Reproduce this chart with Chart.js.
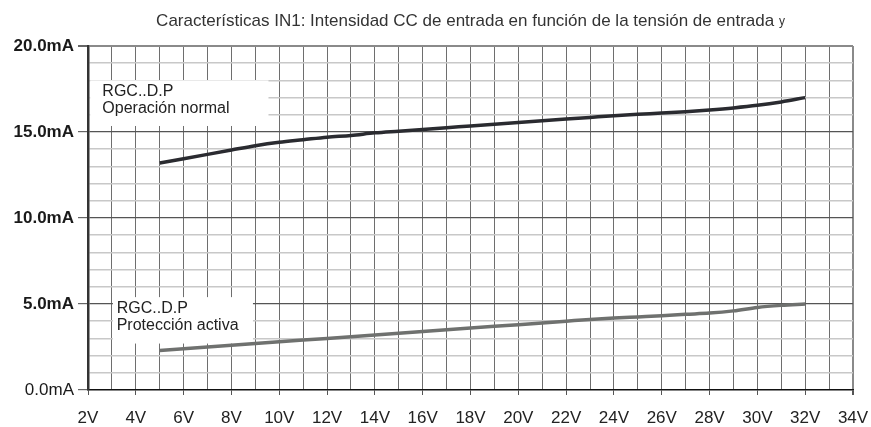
<!DOCTYPE html>
<html>
<head>
<meta charset="utf-8">
<script src="https://cdn.jsdelivr.net/npm/chart.js@4.4.1/dist/chart.umd.min.js"></script>
<style>
  html, body { margin: 0; padding: 0; background: #ffffff; }
  #wrap { width: 871px; height: 427px; position: relative; }
</style>
</head>
<body>
<div id="wrap"><canvas id="c" width="871" height="427"></canvas></div>
<script>
// ---- data ----
const voltages = [5, 6, 7, 8, 9, 10, 11, 12, 13, 14, 15, 16, 17, 18, 19, 20, 21, 22, 23, 24, 25, 26, 27, 28, 29, 30, 31, 32];
const normalCurrent = [13.2, 13.45, 13.7, 13.95, 14.2, 14.4, 14.55, 14.7, 14.8, 14.95, 15.05, 15.15, 15.25, 15.35, 15.45, 15.55, 15.65, 15.75, 15.85, 15.95, 16.03, 16.1, 16.18, 16.28, 16.4, 16.55, 16.75, 17.0];
const protectionCurrent = [2.3, 2.4, 2.5, 2.6, 2.7, 2.8, 2.9, 3.0, 3.1, 3.2, 3.3, 3.4, 3.5, 3.6, 3.7, 3.8, 3.9, 4.0, 4.1, 4.18, 4.25, 4.32, 4.4, 4.47, 4.6, 4.8, 4.92, 5.0];
const xTickValues = [2, 4, 6, 8, 10, 12, 14, 16, 18, 20, 22, 24, 26, 28, 30, 32, 34];
const xTickLabels = ['2V', '4V', '6V', '8V', '10V', '12V', '14V', '16V', '18V', '20V', '22V', '24V', '26V', '28V', '30V', '32V', '34V'];
const yTickValues = [0, 5, 10, 15, 20];
const yTickLabels = ['0.0mA', '5.0mA', '10.0mA', '15.0mA', '20.0mA'];
const titleText = 'Características IN1: Intensidad CC de entrada en función de la tensión de entrada';
const titleSuffix = 'y';
const normalLabel = ['RGC..D.P', 'Operación normal'];
const protectionLabel = ['RGC..D.P', 'Protección activa'];

const FONT = '"Liberation Sans", Arial, Helvetica, sans-serif';

const normalData = voltages.map((v, i) => ({ x: v, y: normalCurrent[i] }));
const protectionData = voltages.map((v, i) => ({ x: v, y: protectionCurrent[i] }));

// label boxes anchored in data coordinates
const labelBoxes = [
  { lines: normalLabel, x0: 2.05, x1: 9.55, y0: 18.0, y1: 15.35, textX: 2.6 },
  { lines: protectionLabel, x0: 3.0, x1: 8.9, y0: 5.4, y1: 2.7, textX: 3.2 }
];

const boxPlugin = {
  id: 'labelBoxes',
  beforeDatasetsDraw(chart) {
    const { ctx, scales: { x, y } } = chart;
    ctx.save();
    labelBoxes.forEach(b => {
      const l = x.getPixelForValue(b.x0) + 1;
      const r = x.getPixelForValue(b.x1);
      const t = y.getPixelForValue(b.y0);
      const bt = y.getPixelForValue(b.y1);
      ctx.fillStyle = '#ffffff';
      ctx.fillRect(l, t, r - l, bt - t);
      ctx.fillStyle = '#222222';
      ctx.font = '16px ' + FONT;
      ctx.textAlign = 'left';
      ctx.textBaseline = 'alphabetic';
      const tx = x.getPixelForValue(b.textX);
      ctx.fillText(b.lines[0], tx, t + 16);
      ctx.fillText(b.lines[1], tx, t + 33);
    });
    ctx.restore();
  }
};

const titlePlugin = {
  id: 'customTitle',
  afterDraw(chart) {
    const { ctx, chartArea } = chart;
    ctx.save();
    ctx.font = '17px ' + FONT;
    const w1 = ctx.measureText(titleText + ' ').width;
    ctx.font = '12px ' + FONT;
    const w2 = ctx.measureText(titleSuffix).width;
    const cx = (chartArea.left + chartArea.right) / 2;
    const sx = cx - (w1 + w2) / 2;
    ctx.fillStyle = '#333333';
    ctx.textAlign = 'left';
    ctx.textBaseline = 'alphabetic';
    ctx.font = '17px ' + FONT;
    ctx.fillText(titleText + ' ', sx, 26);
    ctx.font = '12px ' + FONT;
    ctx.fillText(titleSuffix, sx + w1, 25);
    ctx.restore();
  }
};

new Chart(document.getElementById('c'), {
  type: 'line',
  data: {
    datasets: [
      {
        label: normalLabel.join(' '),
        data: normalData,
        borderColor: '#2a2b30',
        borderWidth: 3.5,
        pointRadius: 0,
        tension: 0.4,
        cubicInterpolationMode: 'monotone',
        fill: false
      },
      {
        label: protectionLabel.join(' '),
        data: protectionData,
        borderColor: '#6f716f',
        borderWidth: 3.5,
        pointRadius: 0,
        tension: 0.4,
        cubicInterpolationMode: 'monotone',
        fill: false
      }
    ]
  },
  options: {
    responsive: false,
    animation: false,
    layout: { padding: { top: 46, right: 18, left: 0, bottom: 0 } },
    plugins: {
      legend: { display: false },
      title: { display: false },
      tooltip: { enabled: false }
    },
    scales: {
      x: {
        type: 'linear',
        min: 2,
        max: 34,
        afterFit(scale) {
          scale.height = 37;
          scale.paddingLeft = 0;
          scale.paddingRight = 0;
        },
        afterBuildTicks(scale) {
          const t = [];
          for (let v = 2; v <= 34; v++) t.push({ value: v });
          scale.ticks = t;
        },
        ticks: {
          autoSkip: false,
          maxRotation: 0,
          padding: 13,
          color: '#222222',
          font: { family: FONT, size: 17 },
          callback(v) {
            const i = xTickValues.indexOf(v);
            return i >= 0 ? xTickLabels[i] : '';
          }
        },
        grid: {
          drawOnChartArea: true,
          drawTicks: true,
          tickLength: 5,
          lineWidth(ctx) { return ctx.tick && ctx.tick.value === 34 ? 2 : 1; },
          color(ctx) {
            const v = ctx.tick ? ctx.tick.value : 0;
            if (v === 2) return 'rgba(0,0,0,0)';
            if (v === 34) return '#8a8a8a';
            return '#6e6e6e';
          },
          tickColor(ctx) {
            const v = ctx.tick ? ctx.tick.value : 0;
            return v % 2 === 0 ? '#555555' : 'rgba(0,0,0,0)';
          }
        },
        border: { display: true, color: '#111111', width: 1.5 }
      },
      y: {
        type: 'linear',
        min: 0,
        max: 20,
        afterFit(scale) {
          scale.width = 88;
          scale.paddingTop = 0;
          scale.paddingBottom = 0;
        },
        afterBuildTicks(scale) {
          const t = [];
          for (let v = 0; v <= 20; v++) t.push({ value: v });
          scale.ticks = t;
        },
        ticks: {
          autoSkip: false,
          padding: 4,
          color: '#1a1a1a',
          font(ctx) {
            const v = ctx.tick ? ctx.tick.value : 0;
            return { family: FONT, size: 17, weight: v === 0 ? 'normal' : 'bold' };
          },
          callback(v) {
            const i = yTickValues.indexOf(v);
            return i >= 0 ? yTickLabels[i] : '';
          }
        },
        grid: {
          drawOnChartArea: true,
          drawTicks: true,
          tickLength: 10,
          lineWidth(ctx) { return ctx.tick && ctx.tick.value === 20 ? 2 : (ctx.tick && ctx.tick.value % 5 === 0 ? 1.2 : 1.5); },
          color(ctx) {
            const v = ctx.tick ? ctx.tick.value : 0;
            if (v === 0) return 'rgba(0,0,0,0)';
            if (v === 20) return '#8a8a8a';
            if (v % 5 === 0) return '#555555';
            return '#c8c8c8';
          },
          tickColor(ctx) {
            const v = ctx.tick ? ctx.tick.value : 0;
            return v % 5 === 0 ? '#666666' : 'rgba(0,0,0,0)';
          }
        },
        border: { display: true, color: '#333333', width: 2.5 }
      }
    }
  },
  plugins: [boxPlugin, titlePlugin]
});
</script>
</body>
</html>
